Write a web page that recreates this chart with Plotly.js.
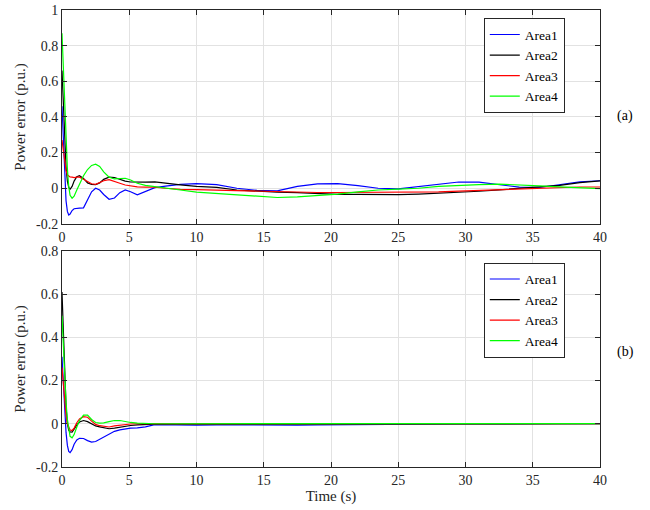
<!DOCTYPE html>
<html>
<head>
<meta charset="utf-8">
<script src="https://cdn.plot.ly/plotly-3.0.1.min.js"></script>
<style>html,body{margin:0;padding:0;background:#fff;}#chart{width:650px;height:510px;}</style>
</head>
<body>
<div id="chart"></div>
<script>
// time samples (s)
const time = [0, 0.1, 0.2, 0.3, 0.4, 0.5, 0.6, 0.75, 0.9, 1.1, 1.3, 1.6, 1.9, 2.2, 2.5, 2.8, 3.1, 3.5, 3.9, 4.3, 4.7, 5.1, 5.6, 6.2, 6.9, 7.7, 8.8, 10, 11.5, 13, 14.5, 16, 17.5, 19, 20.5, 22, 23.5, 25, 26.5, 28, 29.5, 31, 32.5, 34, 35.5, 37, 38.5, 40];

// panel (a)
const a_area1 = [0.46, 0.25, 0.05, -0.07, -0.13, -0.15, -0.145, -0.125, -0.115, -0.112, -0.112, -0.11, -0.065, -0.02, 0.0, -0.01, -0.035, -0.062, -0.055, -0.025, -0.01, -0.02, -0.037, -0.02, 0.003, 0.012, 0.022, 0.026, 0.02, 0.0, -0.012, -0.015, 0.01, 0.024, 0.026, 0.015, 0.0, -0.004, 0.01, 0.025, 0.035, 0.034, 0.02, 0.006, 0.004, 0.02, 0.036, 0.042];
const a_area2 = [0.66, 0.45, 0.25, 0.12, 0.04, 0.005, -0.006, 0.01, 0.04, 0.065, 0.07, 0.055, 0.03, 0.021, 0.02, 0.03, 0.05, 0.062, 0.06, 0.05, 0.04, 0.035, 0.033, 0.034, 0.036, 0.028, 0.019, 0.01, 0.005, -0.01, -0.017, -0.022, -0.025, -0.03, -0.034, -0.035, -0.036, -0.036, -0.033, -0.029, -0.023, -0.017, -0.009, -0.002, 0.005, 0.016, 0.031, 0.041];
const a_area3 = [0.27, 0.2, 0.14, 0.1, 0.075, 0.066, 0.063, 0.062, 0.06, 0.062, 0.062, 0.05, 0.035, 0.025, 0.022, 0.03, 0.042, 0.048, 0.04, 0.028, 0.018, 0.012, 0.008, 0.006, 0.006, 0.0, -0.006, -0.008, -0.011, -0.015, -0.018, -0.021, -0.023, -0.024, -0.024, -0.024, -0.024, -0.024, -0.022, -0.02, -0.016, -0.012, -0.007, -0.002, 0.002, 0.005, 0.007, 0.007];
const a_area4 = [0.87, 0.68, 0.47, 0.27, 0.11, 0.01, -0.04, -0.056, -0.045, -0.01, 0.025, 0.07, 0.105, 0.128, 0.135, 0.122, 0.092, 0.062, 0.052, 0.052, 0.056, 0.046, 0.028, 0.016, 0.01, 0.0, -0.01, -0.022, -0.03, -0.04, -0.048, -0.052, -0.048, -0.042, -0.033, -0.02, -0.01, -0.005, 0.0, 0.01, 0.017, 0.02, 0.023, 0.02, 0.013, 0.008, 0.002, -0.002];

// panel (b)
const b_area1 = [0.31, 0.17, 0.05, -0.04, -0.1, -0.128, -0.133, -0.12, -0.095, -0.075, -0.067, -0.068, -0.078, -0.085, -0.082, -0.072, -0.062, -0.047, -0.035, -0.028, -0.023, -0.02, -0.019, -0.014, -0.004, -0.005, -0.006, -0.006, -0.005, -0.006, -0.006, -0.006, -0.006, -0.005, -0.004, -0.004, -0.003, -0.002, -0.002, -0.001, -0.001, -0.001, 0.0, 0.0, 0.0, 0.0, 0.0, 0.0];
const b_area2 = [0.61, 0.4, 0.22, 0.08, 0.0, -0.03, -0.038, -0.039, -0.025, -0.005, 0.008, 0.015, 0.01, -0.002, -0.01, -0.014, -0.019, -0.023, -0.02, -0.015, -0.012, -0.008, -0.005, -0.003, -0.002, -0.002, -0.002, -0.002, -0.002, -0.002, -0.002, -0.002, -0.002, -0.002, -0.001, -0.001, -0.001, -0.001, -0.001, -0.001, -0.001, -0.001, 0.0, 0.0, 0.0, 0.0, 0.0, 0.0];
const b_area3 = [0.26, 0.18, 0.1, 0.04, 0.0, -0.02, -0.029, -0.031, -0.02, 0.005, 0.022, 0.033, 0.03, 0.012, -0.003, -0.009, -0.013, -0.015, -0.01, -0.006, -0.003, -0.001, 0.0, 0.001, 0.001, 0.0, 0.0, 0.0, 0.0, 0.0, 0.0, 0.0, 0.0, 0.0, 0.0, 0.0, 0.0, 0.0, 0.0, 0.0, 0.0, 0.0, 0.0, 0.0, 0.0, 0.0, 0.0, 0.0];
const b_area4 = [0.5, 0.36, 0.22, 0.1, 0.02, -0.03, -0.058, -0.065, -0.05, -0.015, 0.015, 0.04, 0.04, 0.02, 0.006, 0.003, 0.004, 0.01, 0.015, 0.015, 0.01, 0.006, 0.003, 0.001, 0.0, 0.0, 0.0, 0.0, 0.0, 0.0, 0.0, 0.0, 0.0, 0.0, 0.0, 0.0, 0.0, 0.0, 0.0, 0.0, 0.0, 0.0, 0.0, 0.0, 0.001, 0.001, 0.001, 0.001];

const seriesNames = ["Area1", "Area2", "Area3", "Area4"];
const seriesColors = ["#0000ff", "#000000", "#ff0000", "#00ff00"];

const xTicks = [0, 5, 10, 15, 20, 25, 30, 35, 40];
const yTicksA = [-0.2, 0, 0.2, 0.4, 0.6, 0.8, 1];
const yTickTextA = ["-0.2", "0", "0.2", "0.4", "0.6", "0.8", "1"];
const yTicksB = [-0.2, 0, 0.2, 0.4, 0.6, 0.8];
const yTickTextB = ["-0.2", "0", "0.2", "0.4", "0.6", "0.8"];

const FONT = "Liberation Serif, Times New Roman, serif";
const AX = "#262626";

const dataA = [a_area1, a_area2, a_area3, a_area4];
const dataB = [b_area1, b_area2, b_area3, b_area4];
const traces = [];
dataA.forEach((v, i) => traces.push({
  x: time, y: v, type: "scatter", mode: "lines", name: seriesNames[i],
  line: {color: seriesColors[i], width: 1.2}, xaxis: "x", yaxis: "y", legend: "legend"
}));
dataB.forEach((v, i) => traces.push({
  x: time, y: v, type: "scatter", mode: "lines", name: seriesNames[i],
  line: {color: seriesColors[i], width: 1.2}, xaxis: "x2", yaxis: "y2", legend: "legend2"
}));

function xax(anchor, withTitle) {
  const o = {
    domain: [0, 1], anchor: anchor, range: [0, 40], tickvals: xTicks,
    ticks: "inside", ticklen: 5, tickcolor: AX, mirror: "ticks", showline: true,
    linecolor: AX, linewidth: 1, showgrid: true, gridcolor: "#e2e2e2", gridwidth: 1,
    zeroline: false, tickfont: {family: FONT, size: 14, color: AX}
  };
  if (withTitle) o.title = {text: "Time (s)", font: {family: FONT, size: 15, color: AX}, standoff: 0};
  return o;
}
function yax(anchor, dom, rng, tv, tt) {
  return {
    domain: dom, anchor: anchor, range: rng, tickvals: tv, ticktext: tt,
    ticks: "inside", ticklen: 5, tickcolor: AX, mirror: "ticks", showline: true,
    linecolor: AX, linewidth: 1, showgrid: true, gridcolor: "#e2e2e2", gridwidth: 1,
    zeroline: false, tickfont: {family: FONT, size: 14, color: AX},
    title: {text: "Power error (p.u.)", font: {family: FONT, size: 15, color: AX}, standoff: 6}
  };
}
const legendStyle = (y) => ({
  x: 0.784, y: y, xanchor: "left", yanchor: "top", xref: "paper", yref: "paper",
  bgcolor: "#ffffff", bordercolor: AX, borderwidth: 1,
  font: {family: FONT, size: 13.5, color: "#000"}, tracegroupgap: 0, itemwidth: 30
});

const layout = {
  width: 650, height: 510,
  margin: {l: 62, r: 50, t: 10, b: 43},
  paper_bgcolor: "#ffffff", plot_bgcolor: "#ffffff",
  showlegend: true,
  xaxis: xax("y", false),
  yaxis: yax("x", [0.532, 1], [-0.2, 1], yTicksA, yTickTextA),
  xaxis2: xax("y2", true),
  yaxis2: yax("x2", [0, 0.473], [-0.2, 0.8], yTicksB, yTickTextB),
  legend: legendStyle(0.982),
  legend2: legendStyle(0.447),
  annotations: [
    {text: "(a)", x: 1.028, y: 0.768, xref: "paper", yref: "paper", showarrow: false, xanchor: "left", yanchor: "middle", font: {family: FONT, size: 14, color: "#000"}},
    {text: "(b)", x: 1.028, y: 0.252, xref: "paper", yref: "paper", showarrow: false, xanchor: "left", yanchor: "middle", font: {family: FONT, size: 14, color: "#000"}}
  ]
};

Plotly.newPlot("chart", traces, layout, {displayModeBar: false, staticPlot: true});
</script>
</body>
</html>
